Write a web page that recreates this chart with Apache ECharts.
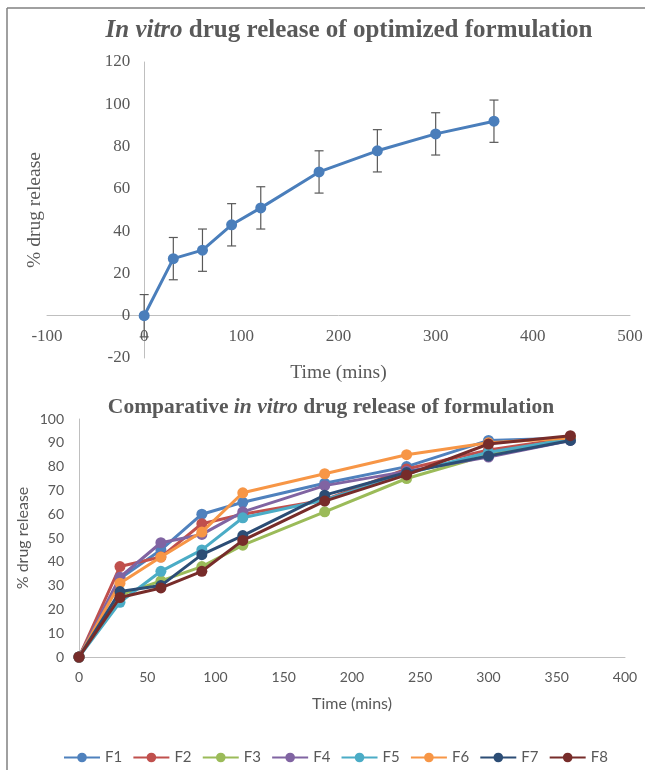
<!DOCTYPE html>
<html>
<head>
<meta charset="utf-8">
<script src="https://cdn.jsdelivr.net/npm/echarts@6/dist/echarts.min.js"></script>
<style>
  html, body { margin: 0; padding: 0; background: #ffffff; }
  #chart { width: 645px; height: 770px; }
</style>
</head>
<body>
<div id="chart"></div>
<script>
// ---- Data ----
const time = [0, 30, 60, 90, 120, 180, 240, 300, 360];
const optimized = [0, 27, 31, 43, 51, 68, 78, 86, 92];
const optimizedError = [10, 10, 10, 10, 10, 10, 10, 10, 10];

const seriesNames = ['F1', 'F2', 'F3', 'F4', 'F5', 'F6', 'F7', 'F8'];
const F1 = [0, 33, 45, 60, 65, 73, 80, 91, 92];
const F2 = [0, 38, 42, 56, 60, 66, 79, 87, 92];
const F3 = [0, 26, 32, 38, 47, 61, 75, 85, 92];
const F4 = [0, 33.5, 48, 51.5, 61, 72, 78, 84, 91];
const F5 = [0, 23, 36, 45, 58.5, 66, 77, 86, 91.5];
const F6 = [0, 31, 42, 52.5, 69, 77, 85, 90, 92];
const F7 = [0, 27.5, 30, 43, 51, 68, 77.5, 84.5, 91];
const F8 = [0, 25, 29, 36, 49, 65.5, 76.5, 89.5, 93];
const formulations = [F1, F2, F3, F4, F5, F6, F7, F8];

const topXTicks = { min: -100, max: 500, interval: 100 };
const topYTicks = { min: -20, max: 120, interval: 20 };
const botXTicks = { min: 0, max: 400, interval: 50 };
const botYTicks = { min: 0, max: 100, interval: 10 };

// ---- Styles ----
const colors = ['#4F81BD', '#C0504D', '#9BBB59', '#8064A2', '#4BACC6', '#F79646', '#2C4D75', '#772C2A'];
const textGray = '#595959';
const axisGray = '#bfbfbf';
const serif = '"Liberation Serif", "DejaVu Serif", serif';
const sans = 'Lato, "Open Sans", sans-serif';

const chart = echarts.init(document.getElementById('chart'), null, { renderer: 'canvas' });

const pair = (arr) => time.map((t, i) => [t, arr[i]]);
const errData = time.map((t, i) => [t, optimized[i] - optimizedError[i], optimized[i] + optimizedError[i]]);

const option = {
  backgroundColor: '#ffffff',
  animation: false,
  title: [
    {
      text: '{i|In vitro} drug release of optimized formulation',
      left: 344, top: 13, textAlign: 'center',
      textStyle: {
        fontFamily: serif, fontSize: 25, fontWeight: 'bold', color: textGray,
        rich: { i: { fontFamily: serif, fontSize: 25, fontWeight: 'bold', fontStyle: 'italic', color: textGray } }
      }
    },
    {
      text: 'Comparative {i|in vitro} drug release of formulation',
      left: 326, top: 391, textAlign: 'center',
      textStyle: {
        fontFamily: serif, fontSize: 21.5, fontWeight: 'bold', color: textGray,
        rich: { i: { fontFamily: serif, fontSize: 21.5, fontWeight: 'bold', fontStyle: 'italic', color: textGray } }
      }
    }
  ],
  legend: {
    data: seriesNames,
    left: 58, top: 745,
    itemWidth: 36, itemHeight: 12, itemGap: 10.2,
    textStyle: { fontFamily: sans, fontSize: 15, color: textGray }
  },
  graphic: [
    { type: 'line', shape: { x1: 7, y1: 8, x2: 7, y2: 770 }, style: { stroke: '#808080', lineWidth: 1.5 } },
    { type: 'line', shape: { x1: 7, y1: 8, x2: 645, y2: 8 }, style: { stroke: '#808080', lineWidth: 1.5 } }
  ],
  grid: [
    { left: 47, right: 15, top: 62, bottom: 412, outerBoundsMode: 'none', containLabel: false },
    { left: 79, right: 20, top: 419, bottom: 113, outerBoundsMode: 'none', containLabel: false }
  ],
  xAxis: [
    {
      gridIndex: 0, type: 'value', min: topXTicks.min, max: topXTicks.max, interval: topXTicks.interval,
      axisLine: { onZero: false, lineStyle: { color: axisGray, width: 1 } },
      axisTick: { show: false }, splitLine: { show: false },
      axisLabel: { fontFamily: serif, fontSize: 17, color: textGray, margin: 12 },
      name: 'Time (mins)', nameLocation: 'middle', nameGap: 47,
      nameTextStyle: { fontFamily: serif, fontSize: 19.5, color: textGray }
    },
    {
      gridIndex: 1, type: 'value', min: botXTicks.min, max: botXTicks.max, interval: botXTicks.interval,
      axisLine: { lineStyle: { color: axisGray, width: 1 } },
      axisTick: { show: false }, splitLine: { show: false },
      axisLabel: { fontFamily: sans, fontSize: 14, color: textGray, margin: 13 },
      name: 'Time (mins)', nameLocation: 'middle', nameGap: 39,
      nameTextStyle: { fontFamily: sans, fontSize: 16, color: textGray }
    }
  ],
  yAxis: [
    {
      gridIndex: 0, type: 'value', min: topYTicks.min, max: topYTicks.max, interval: topYTicks.interval,
      axisLine: { show: true, onZero: false, lineStyle: { color: axisGray, width: 1 } },
      axisTick: { show: false }, splitLine: { show: false },
      axisLabel: { fontFamily: serif, fontSize: 17, color: textGray, margin: 14 },
      name: '% drug release', nameLocation: 'middle', nameGap: 99, nameRotate: 90, nameMoveOverlap: false,
      nameTextStyle: { fontFamily: serif, fontSize: 19.5, color: textGray }
    },
    {
      gridIndex: 1, type: 'value', min: botYTicks.min, max: botYTicks.max, interval: botYTicks.interval,
      axisLine: { show: true, lineStyle: { color: axisGray, width: 1 } },
      axisTick: { show: false }, splitLine: { show: false },
      axisLabel: { fontFamily: sans, fontSize: 14, color: textGray, margin: 15 },
      name: '% drug release', nameLocation: 'middle', nameGap: 48, nameRotate: 90, nameMoveOverlap: false,
      nameTextStyle: { fontFamily: sans, fontSize: 16, color: textGray }
    }
  ],
  series: [
    {
      type: 'custom', name: 'error', xAxisIndex: 0, yAxisIndex: 0, z: 2,
      data: errData,
      renderItem: function (params, api) {
        const x = api.value(0);
        const lo = api.coord([x, api.value(1)]);
        const hi = api.coord([x, api.value(2)]);
        const hw = 4.5;
        const st = { stroke: '#595959', lineWidth: 1.2 };
        return {
          type: 'group',
          children: [
            { type: 'line', shape: { x1: lo[0], y1: lo[1], x2: hi[0], y2: hi[1] }, style: st },
            { type: 'line', shape: { x1: lo[0] - hw, y1: lo[1], x2: lo[0] + hw, y2: lo[1] }, style: st },
            { type: 'line', shape: { x1: hi[0] - hw, y1: hi[1], x2: hi[0] + hw, y2: hi[1] }, style: st }
          ]
        };
      }
    },
    {
      type: 'line', name: 'Optimized', xAxisIndex: 0, yAxisIndex: 0, z: 3,
      data: pair(optimized),
      symbol: 'circle', symbolSize: 11, showSymbol: true,
      lineStyle: { color: '#4a7ebb', width: 3 },
      itemStyle: { color: '#4a7ebb' }
    }
  ].concat(formulations.map((arr, k) => ({
    type: 'line', name: seriesNames[k], xAxisIndex: 1, yAxisIndex: 1, z: 3 + k,
    data: pair(arr),
    symbol: 'circle', symbolSize: 11, showSymbol: true,
    lineStyle: { color: colors[k], width: 3 },
    itemStyle: { color: colors[k] }
  })))
};

chart.setOption(option);

// Place the top chart's axes at the zero crossing (Excel style), using the library's own scale.
const origin = chart.convertToPixel({ gridIndex: 0 }, [0, 0]);
const corner = chart.convertToPixel({ gridIndex: 0 }, [topXTicks.min, topYTicks.min]);
chart.setOption({
  xAxis: [{ offset: -(corner[1] - origin[1]) }, {}],
  yAxis: [{ offset: -(origin[0] - corner[0]) }, {}]
});
</script>
</body>
</html>
